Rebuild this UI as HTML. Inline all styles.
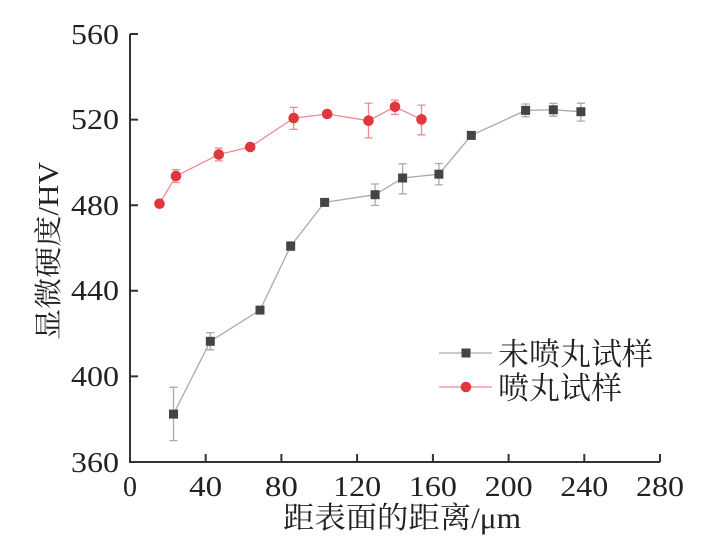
<!DOCTYPE html>
<html><head><meta charset="utf-8"><style>
html,body{margin:0;padding:0;background:#fff;}
svg{display:block;}
text{font-family:"Liberation Serif","Noto Serif CJK SC",serif;fill:#222;}
</style></head><body>
<svg width="720" height="542" viewBox="0 0 720 542" xmlns="http://www.w3.org/2000/svg">
<g stroke="#333" stroke-width="2" fill="none">
<path d="M130,34 V462 H660"/>
<path d="M130,34 h8 M130,119.6 h8 M130,205.2 h8 M130,290.8 h8 M130,376.4 h8"/>
<path d="M205.7,462 v-8 M281.4,462 v-8 M357.1,462 v-8 M432.9,462 v-8 M508.6,462 v-8 M584.3,462 v-8 M660,462 v-8"/>
</g>
<g font-size="28" text-anchor="end">
<text x="119" y="44" textLength="48" lengthAdjust="spacingAndGlyphs">560</text><text x="119" y="129" textLength="48" lengthAdjust="spacingAndGlyphs">520</text><text x="119" y="215" textLength="48" lengthAdjust="spacingAndGlyphs">480</text>
<text x="119" y="300" textLength="48" lengthAdjust="spacingAndGlyphs">440</text><text x="119" y="386" textLength="48" lengthAdjust="spacingAndGlyphs">400</text><text x="119" y="472" textLength="48" lengthAdjust="spacingAndGlyphs">360</text>
</g>
<g font-size="28" text-anchor="middle">
<text x="130" y="496">0</text><text x="205.7" y="496" textLength="33" lengthAdjust="spacingAndGlyphs">40</text><text x="281.4" y="496" textLength="33" lengthAdjust="spacingAndGlyphs">80</text>
<text x="357.1" y="496" textLength="48" lengthAdjust="spacingAndGlyphs">120</text><text x="432.9" y="496" textLength="48" lengthAdjust="spacingAndGlyphs">160</text><text x="508.6" y="496" textLength="48" lengthAdjust="spacingAndGlyphs">200</text>
<text x="584.3" y="496" textLength="48" lengthAdjust="spacingAndGlyphs">240</text><text x="660" y="496" textLength="48" lengthAdjust="spacingAndGlyphs">280</text>
</g>
<text x="402" y="528" font-size="30" text-anchor="middle" textLength="238" lengthAdjust="spacingAndGlyphs">距表面的距离/μm</text>
<text transform="translate(58,251) rotate(-90)" font-size="28" text-anchor="middle" textLength="178" lengthAdjust="spacingAndGlyphs">显微硬度/HV</text>

<g stroke="#aaa" stroke-width="1.3" fill="none">
<polyline points="173.5,414.1 210.3,341.3 260,310.1 290.7,246.1 324.6,202.4 375.1,194.7 402.6,178 438.9,174.2 471.3,135.4 525.6,110.4 553.3,109.8 580.9,111.7"/>
<path d="M173.5,387.3V440.6M169.5,387.3h8M169.5,440.6h8"/>
<path d="M210.3,332.7V349.8M206.3,332.7h8M206.3,349.8h8"/>
<path d="M290.7,241.8V250.4M286.7,241.8h8M286.7,250.4h8"/>
<path d="M375.1,184V205.4M371.1,184h8M371.1,205.4h8"/>
<path d="M402.6,163.8V193.8M398.6,163.8h8M398.6,193.8h8"/>
<path d="M438.9,163.5V184.9M434.9,163.5h8M434.9,184.9h8"/>
<path d="M525.6,104V116.8M521.6,104h8M521.6,116.8h8"/>
<path d="M553.3,103.4V116.2M549.3,103.4h8M549.3,116.2h8"/>
<path d="M580.9,103.2V121.1M576.9,103.2h8M576.9,121.1h8"/>
</g>
<g fill="#444">
<rect x="169" y="409.6" width="9" height="9"/><rect x="205.8" y="336.8" width="9" height="9"/>
<rect x="255.5" y="305.6" width="9" height="9"/><rect x="286.2" y="241.6" width="9" height="9"/>
<rect x="320.1" y="197.9" width="9" height="9"/><rect x="370.6" y="190.2" width="9" height="9"/>
<rect x="398.1" y="173.5" width="9" height="9"/><rect x="434.4" y="169.7" width="9" height="9"/>
<rect x="466.8" y="130.9" width="9" height="9"/><rect x="521.1" y="105.9" width="9" height="9"/>
<rect x="548.8" y="105.3" width="9" height="9"/><rect x="576.4" y="107.2" width="9" height="9"/>
</g>

<g stroke="#ef8a8f" stroke-width="1.3" fill="none">
<polyline points="159.5,203.7 176,176.1 218.8,154.5 250.2,147 293.7,118.1 327.2,114 368.5,120.7 395,106.8 421.5,119.4"/>
<path d="M176,169.7V182.5M172,169.7h8M172,182.5h8"/>
<path d="M218.8,148.1V160.9M214.8,148.1h8M214.8,160.9h8"/>
<path d="M293.7,107.4V129.4M289.7,107.4h8M289.7,129.4h8"/>
<path d="M368.5,103.1V137.9M364.5,103.1h8M364.5,137.9h8"/>
<path d="M395,100.1V114.5M391,100.1h8M391,114.5h8"/>
<path d="M421.5,105.1V134.8M417.5,105.1h8M417.5,134.8h8"/>
</g>
<g fill="#e0373f">
<circle cx="159.5" cy="203.7" r="5.3"/><circle cx="176" cy="176.1" r="5.3"/>
<circle cx="218.8" cy="154.5" r="5.3"/><circle cx="250.2" cy="147" r="5.3"/>
<circle cx="293.7" cy="118.1" r="5.3"/><circle cx="327.2" cy="114" r="5.3"/>
<circle cx="368.5" cy="120.7" r="5.3"/><circle cx="395" cy="106.8" r="5.3"/>
<circle cx="421.5" cy="119.4" r="5.3"/>
</g>

<line x1="439" y1="353" x2="492" y2="353" stroke="#aaa" stroke-width="1.3"/>
<rect x="461.5" y="348.5" width="9" height="9" fill="#444"/>
<line x1="439" y1="387" x2="492" y2="387" stroke="#ef8a8f" stroke-width="1.3"/>
<circle cx="466" cy="387" r="5.3" fill="#e0373f"/>
<text x="498" y="365" font-size="31">未喷丸试样</text>
<text x="498" y="399" font-size="31">喷丸试样</text>
</svg>
</body></html>
